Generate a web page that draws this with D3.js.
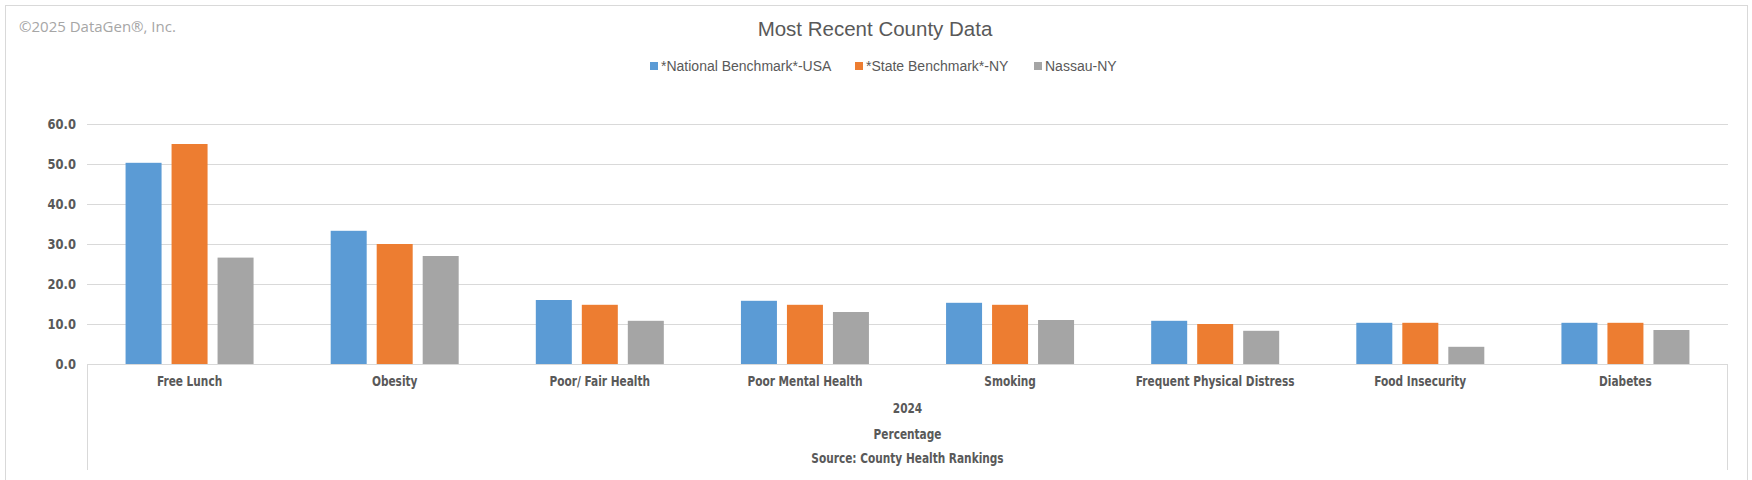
<!DOCTYPE html>
<html>
<head>
<meta charset="utf-8">
<style>
  body { margin: 0; background: #fff; }
  .axisText { font-family: "DejaVu Sans Condensed", "DejaVu Sans", sans-serif; font-stretch: condensed; font-weight: bold; fill: #595959; }
</style>
</head>
<body>
</body>
<script src="https://d3js.org/d3.v7.min.js"></script>
<script>
// chart data
var categories = ["Free Lunch", "Obesity", "Poor/ Fair Health", "Poor Mental Health", "Smoking",
                  "Frequent Physical Distress", "Food Insecurity", "Diabetes"];
var seriesNames = ["*National Benchmark*-USA", "*State Benchmark*-NY", "Nassau-NY"];
var usaValues    = [50.3, 33.3, 16.0, 15.8, 15.3, 10.8, 10.3, 10.3];
var nyValues     = [55.0, 30.0, 14.8, 14.8, 14.8, 10.0, 10.3, 10.3];
var nassauValues = [26.6, 27.0, 10.8, 13.0, 11.0, 8.3, 4.3, 8.5];
var yTicks = [0, 10, 20, 30, 40, 50, 60];
var axisTitles = ["2024", "Percentage", "Source: County Health Rankings"];

var colors = ["#5b9bd5", "#ed7d31", "#a5a5a5"];
var allValues = [usaValues, nyValues, nassauValues];

var W = 1752, H = 480;
var plotLeft = 87, plotRight = 1728, plotTop = 124, plotBottom = 364;
var squeeze = 0.87; // the original axis font is a narrow one

var svg = d3.select("body").append("svg")
            .attr("width", W)
            .attr("height", H);

// outer chart border
svg.append("rect")
   .attr("x", 5.5).attr("y", 5.5)
   .attr("width", 1742).attr("height", 490)
   .attr("fill", "none")
   .attr("stroke", "#d9d9d9");

var x = d3.scaleBand().domain(categories).range([plotLeft, plotRight]);
var xSeries = d3.scaleBand().domain(seriesNames).range([0, 128]).paddingInner(10 / 46);
var y = d3.scaleLinear().domain([0, 60]).range([plotBottom, plotTop]);

// gridlines
svg.selectAll(".grid")
   .data(yTicks)
   .enter().append("line")
   .attr("x1", plotLeft).attr("x2", plotRight)
   .attr("y1", function (d) { return Math.round(y(d)) + 0.5; })
   .attr("y2", function (d) { return Math.round(y(d)) + 0.5; })
   .attr("stroke", "#d9d9d9")
   .attr("stroke-width", 1);

// y axis labels
svg.selectAll(".ylab")
   .data(yTicks)
   .enter().append("text")
   .attr("class", "axisText")
   .attr("transform", function (d) { return "translate(" + (plotLeft - 11) + "," + (y(d) + 5) + ") scale(0.95,1)"; })
   .attr("text-anchor", "end")
   .style("font-size", "13.5px")
   .text(function (d) { return d.toFixed(1); });

// bars
for (var s = 0; s < seriesNames.length; s++) {
    svg.append("g").selectAll("rect")
       .data(allValues[s])
       .enter().append("rect")
       .attr("x", function (d, i) { return x(categories[i]) + x.bandwidth() / 2 - 64 + xSeries(seriesNames[s]); })
       .attr("y", function (d) { return y(d); })
       .attr("width", xSeries.bandwidth())
       .attr("height", function (d) { return plotBottom - y(d); })
       .attr("fill", colors[s]);
}

// axis line and the side lines of the multi-level category axis
svg.append("line")
   .attr("x1", plotLeft).attr("x2", plotRight)
   .attr("y1", plotBottom + 0.5).attr("y2", plotBottom + 0.5)
   .attr("stroke", "#d9d9d9");
svg.append("line")
   .attr("x1", plotLeft + 0.5).attr("x2", plotLeft + 0.5)
   .attr("y1", plotBottom).attr("y2", 470)
   .attr("stroke", "#d9d9d9");
svg.append("line")
   .attr("x1", plotRight - 0.5).attr("x2", plotRight - 0.5)
   .attr("y1", plotBottom).attr("y2", 470)
   .attr("stroke", "#d9d9d9");

// category labels
svg.selectAll(".xlab")
   .data(categories)
   .enter().append("text")
   .attr("class", "axisText")
   .attr("transform", function (d) { return "translate(" + (x(d) + x.bandwidth() / 2) + ",386) scale(" + squeeze + ",1)"; })
   .attr("text-anchor", "middle")
   .style("font-size", "13.5px")
   .text(function (d) { return d; });

// extra axis levels
var titleY = [413, 439, 463];
svg.selectAll(".xtitle")
   .data(axisTitles)
   .enter().append("text")
   .attr("class", "axisText")
   .attr("transform", function (d, i) { return "translate(" + ((plotLeft + plotRight) / 2) + "," + titleY[i] + ") scale(" + squeeze + ",1)"; })
   .attr("text-anchor", "middle")
   .style("font-size", "13.5px")
   .text(function (d) { return d; });

// title
svg.append("text")
   .attr("x", 875)
   .attr("y", 36)
   .attr("text-anchor", "middle")
   .style("font-family", "'Liberation Sans', Arial, sans-serif")
   .style("font-size", "20.5px")
   .style("fill", "#595959")
   .text("Most Recent County Data");

// copyright
svg.append("text")
   .attr("x", 19)
   .attr("y", 32)
   .style("font-family", "'Open Sans', sans-serif")
   .style("font-size", "15px")
   .style("fill", "#a6a6a6")
   .text("\u00A92025 DataGen\u00AE, Inc.");

// legend
var legendX = [650, 855, 1034];
var legend = svg.selectAll(".legend")
   .data(seriesNames)
   .enter().append("g")
   .attr("transform", function (d, i) { return "translate(" + legendX[i] + ",66)"; });
legend.append("rect")
   .attr("x", 0).attr("y", -4)
   .attr("width", 8).attr("height", 8)
   .attr("fill", function (d, i) { return colors[i]; });
legend.append("text")
   .attr("x", 11)
   .attr("y", 5)
   .style("font-family", "'Liberation Sans', Arial, sans-serif")
   .style("font-size", "14px")
   .style("fill", "#595959")
   .text(function (d) { return d; });
</script>
</html>
